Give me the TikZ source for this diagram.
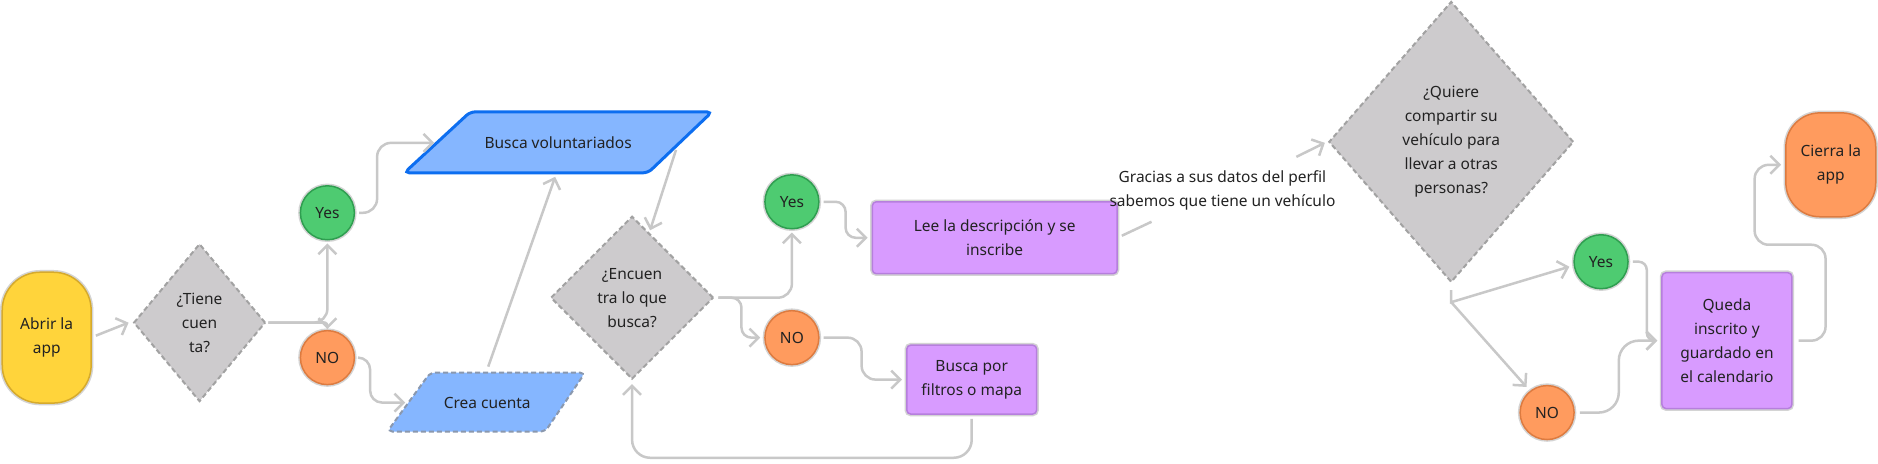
\documentclass[tikz,border=0pt]{standalone}
\usepackage{fontspec}
\setmainfont{Noto Sans}
\usetikzlibrary{shapes.geometric,arrows.meta,calc}
\definecolor{txt}{HTML}{222222}
\definecolor{ringc}{HTML}{D4D4D4}
\definecolor{yel}{HTML}{FFD43B}
\definecolor{yelb}{HTML}{D6AA2C}
\definecolor{dgray}{HTML}{CDCBCD}
\definecolor{dgrayb}{HTML}{A2A2A2}
\definecolor{grn}{HTML}{4ECB71}
\definecolor{grnb}{HTML}{2F9E50}
\definecolor{org}{HTML}{FF9B5E}
\definecolor{orgb}{HTML}{DD7B40}
\definecolor{pur}{HTML}{D89BFF}
\definecolor{purb}{HTML}{B67FDD}
\definecolor{blu}{HTML}{85B6FF}
\definecolor{blub}{HTML}{0D6EF0}
\definecolor{blud}{HTML}{8A98AE}
\definecolor{lc}{HTML}{C8C8C8}
\begin{document}
\begin{tikzpicture}[x=1pt,y=-1pt,
  every node/.style={font=\fontsize{15.5}{24}\selectfont, text=txt, align=center},
  ring/.style={preaction={draw=ringc,line width=4.5pt}},
  startnode/.style={rectangle, minimum width=89pt, minimum height=131pt, rounded corners=38pt, fill=yel, draw=yelb, line width=1.5pt, ring},
  endnode/.style={rectangle, minimum width=90pt, minimum height=104pt, rounded corners=34pt, fill=org, draw=orgb, line width=1.5pt, ring},
  decision/.style={diamond, fill=dgray, draw=dgrayb, dash pattern=on 5pt off 3pt, line width=2pt, inner sep=0pt},
  yesnode/.style={circle, minimum size=54pt, inner sep=0pt, fill=grn, draw=grnb, line width=1.5pt, ring},
  nonode/.style={circle, minimum size=54pt, inner sep=0pt, fill=org, draw=orgb, line width=1.5pt, ring},
  action/.style={rectangle, rounded corners=4pt, fill=pur, draw=purb, line width=1.5pt, ring},
  conn/.style={draw=lc, line width=2.5pt, rounded corners=14pt},
  arr/.style={conn, -{Straight Barb[length=9pt,width=18pt]}},
]
\fill[white] (0,0) rectangle (1878,464);

% nodes
\node[startnode] (abrir) at (46,338) {Abrir la\\app};
\node[decision, minimum width=132pt, minimum height=158pt] (tiene) at (199,323) {¿Tiene\\cuen\\ta?};
\node[yesnode] (yes1) at (327,213) {Yes};
\node[nonode] (no1) at (327,358) {NO};

\draw[fill=blu, draw=blub, line width=3pt, rounded corners=5pt] (404,173) -- (470,112) -- (712,112) -- (648,173) -- cycle;
\node (bv) at (558,143) {Busca voluntariados};
\draw[fill=blu, draw=blud, dash pattern=on 5pt off 3pt, line width=2pt, rounded corners=5pt] (387,432) -- (430,373) -- (585,373) -- (545,432) -- cycle;
\node (cc) at (487,403) {Crea cuenta};

\node[decision, minimum width=163pt, minimum height=163pt] (enc) at (632,298) {¿Encuen\\tra lo que\\busca?};
\node[yesnode] (yes2) at (792,202) {Yes};
\node[nonode] (no2) at (792,338) {NO};
\node[action, minimum width=245pt, minimum height=72pt] (lee) at (995,238) {Lee la descripción y se\\inscribe};
\node[action, minimum width=130pt, minimum height=69pt] (bpf) at (972,380) {Busca por\\filtros o mapa};

\node (gr) at (1223,191) {Gracias a sus datos del perfil\\sabemos que tiene un vehículo};
\node[decision, minimum width=245pt, minimum height=281pt] (quiere) at (1452,142) {¿Quiere\\compartir su\\vehículo para\\llevar a otras\\personas?};
\node[yesnode] (yes3) at (1602,262) {Yes};
\node[nonode] (no3) at (1548,413) {NO};
\node[action, minimum width=130pt, minimum height=136pt] (queda) at (1728,341) {Queda\\inscrito y\\guardado en\\el calendario};
\node[endnode] (cierra) at (1832,165) {Cierra la\\app};

% connectors
\coordinate (bvL) at ($(bv)+(-124,0)$);
\coordinate (ccL) at ($(cc)+(-82,0)$);
\draw[arr] ($(abrir.east)+(4,-2)$) -- ($(tiene.west)+(-4,0)$);
\draw[arr] ($(tiene.east)+(2,0)$) -| ($(yes1.south)+(0,3)$);
\draw[arr] ($(tiene.east)+(2,0)$) -- ++(36,0) to[out=0,in=90] ($(no1.north)+(0,-1)$);
\draw[arr] ($(yes1.east)+(4,0)$) -- ++(18,0) |- (bvL);
\draw[arr, rounded corners=12pt] ($(no1.east)+(4,0)$) -- ++(11,0) |- (ccL);
\draw[arr] ($(cc)+(1,-36)$) -- ($(bv)+(-3,34)$);
\draw[arr] ($(bv)+(118,7)$) -- ($(enc.north)+(18,15)$);
\draw[arr] ($(enc.east)+(4,0)$) -| ($(yes2.south)+(0,3)$);
\draw[arr, rounded corners=10pt] ($(enc.east)+(4,0)$) -- ++(23,0) |- ($(no2.west)+(-4,0)$);
\draw[arr, rounded corners=10pt] ($(yes2.east)+(4,0)$) -- ++(22,0) |- ($(lee.west)+(-4,0)$);
\draw[arr] ($(no2.east)+(4,0)$) -- ++(38,0) |- ($(bpf.west)+(-4,0)$);
\draw[arr, rounded corners=18pt] ($(bpf.south)+(0,4)$) -- ++(0,39) -| ($(enc.south)+(0,4)$);
\draw[conn] ($(lee.east)+(4,-2)$) -- ($(gr)+(-71,31)$);
\draw[arr] ($(gr)+(74,-34)$) -- ($(quiere.west)+(-3,1)$);
\draw[arr, rounded corners=0pt] ($(quiere.south)+(0,7)$) -- ++(0,12) -- ($(yes3.west)+(-4,5)$);
\draw[arr, rounded corners=0pt] ($(quiere.south)+(0,19)$) -- ($(no3.north west)+(-1,-6)$);
\draw[arr, rounded corners=8pt] ($(yes3.east)+(4,0)$) -- ++(14,0) |- ($(queda.west)+(-4,0)$);
\draw[arr, rounded corners=20pt] ($(no3.east)+(5,0)$) -- ++(39,0) |- ($(queda.west)+(-4,0)$);
\draw[arr, rounded corners=14pt] ($(queda.east)+(6,0)$) -- ++(27,0) -- ++(0,-96) -- ++(-71,0) |- ($(cierra.west)+(-4,0)$);
\end{tikzpicture}
\end{document}
